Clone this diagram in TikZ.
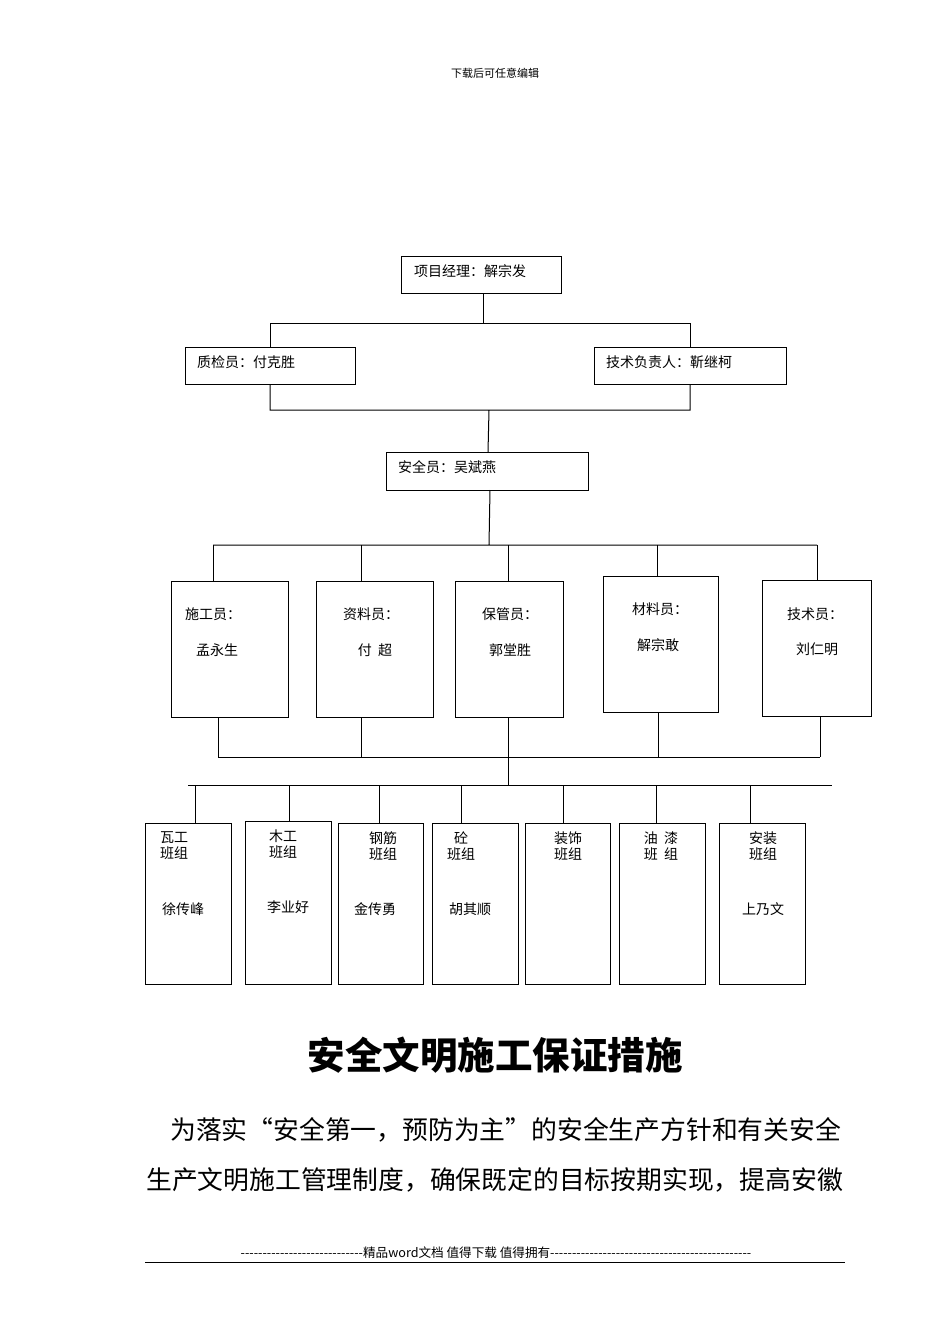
\documentclass[tikz,border=0pt]{standalone}
\usepackage{fontspec}
\setmainfont{Liberation Serif}
\newfontfamily\cjk{Noto Sans CJK SC}
\begin{document}
\begin{tikzpicture}[x=1pt,y=-1pt,
  bx/.style={draw,line width=1pt},
  ln/.style={line width=1pt},
  t/.style={font=\cjk\fontsize{14}{16}\selectfont,inner sep=0pt,anchor=west},
  c/.style={font=\cjk\fontsize{14}{16}\selectfont,inner sep=0pt,align=center}]
\useasboundingbox (0,0) rectangle (950,1344);
\node[font=\cjk\fontsize{11}{12}\selectfont] (hd) at (495,73) {下载后可任意编辑};
% top
\draw[bx] (401,256) rectangle (561,293); \node[t] (pm) at (414,271) {项目经理：解宗发};
\draw[bx] (185,347) rectangle (355,384); \node[t] (qc) at (197,362) {质检员：付克胜};
\draw[bx] (594,347) rectangle (786,384); \node[t] (te) at (606,362) {技术负责人：靳继柯};
\draw[ln] (483,293)--(483,323) (270,347)--(270,323)--(690,323)--(690,347);
\draw[ln] (270,384)--(270,410)--(690,410)--(690,384) (489,410)--(488,452);
\draw[bx] (386,452) rectangle (588,490); \node[t] (sa) at (398,467) {安全员：吴斌燕};
\draw[ln] (490,490)--(489,545) (213,545)--(817,545);
\foreach \x/\y in {213/581,361/581,508/581,657/576,817/580} \draw[ln] (\x,545)--(\x,\y);
% mid boxes
\draw[bx] (171,581) rectangle (288,717);
\node[c] (a1) at (213,614) {施工员：}; \node[c] (a2) at (217,650) {孟永生};
\draw[bx] (316,581) rectangle (433,717);
\node[c] (b1) at (371,614) {资料员：}; \node[c] (b2) at (375,650) {付\ \ 超};
\draw[bx] (455,581) rectangle (563,717);
\node[c] (c1) at (510,614) {保管员：}; \node[c] (c2) at (510,650) {郭堂胜};
\draw[bx] (603,576) rectangle (718,712);
\node[c] (d1) at (660,609) {材料员：}; \node[c] (d2) at (658,645) {解宗敢};
\draw[bx] (762,580) rectangle (871,716);
\node[c] (e1) at (815,614) {技术员：}; \node[c] (e2) at (817,649) {刘仁明};
\foreach \x/\y in {218/717,361/717,508/717,658/712,820/716} \draw[ln] (\x,\y)--(\x,757);
\draw[ln] (218,757)--(820,757) (508,757)--(508,785) (188,785)--(832,785);
\foreach \x/\y in {195/823,289/821,379/823,461/823,563/823,656/823,750/823} \draw[ln] (\x,785)--(\x,\y);
% bottom boxes
\foreach \a/\b/\yy in {145/231/823,245/331/821,338/423/823,432/518/823,525/610/823,619/705/823,719/805/823}
  \draw[bx] (\a,\yy) rectangle (\b,984);
\node[c] (g1) at (174,846) {瓦工\\班组}; \node[c] (g2) at (183,909) {徐传峰};
\node[c] (h1) at (283,844) {木工\\班组}; \node[c] (h2) at (288,907) {李业好};
\node[c] (i1) at (383,846) {钢筋\\班组}; \node[c] (i2) at (375,909) {金传勇};
\node[c] (j1) at (461,846) {砼\hspace{14pt}\\班组}; \node[c] (j2) at (470,909) {胡其顺};
\node[c] (k1) at (568,846) {装饰\\班组};
\node[c] (l1) at (661,846) {油\ \ 漆\\班\ \ 组};
\node[c] (m1) at (763,846) {安装\\班组}; \node[c] (m2) at (763,909) {上乃文};
% text
\node[font=\cjk\bfseries\fontsize{37.5}{40}\selectfont] (ti) at (495,1055) {安全文明施工保证措施};
\node[font=\cjk\fontsize{25.8}{28}\selectfont,inner sep=0pt,anchor=west] (p1) at (170,1130) {为落实“安全第一，预防为主”的安全生产方针和有关安全};
\node[font=\cjk\fontsize{25.8}{28}\selectfont,inner sep=0pt,anchor=west] (p2) at (146,1180) {生产文明施工管理制度，确保既定的目标按期实现，提高安徽};
\draw[line width=0.8pt] (145,1262)--(845,1262);
\node[font=\cjk\fontsize{12.6}{13}\selectfont] (ft) at (496,1253) {----------------------------精品word文档 值得下载 值得拥有----------------------------------------------};
\end{tikzpicture}
\end{document}
